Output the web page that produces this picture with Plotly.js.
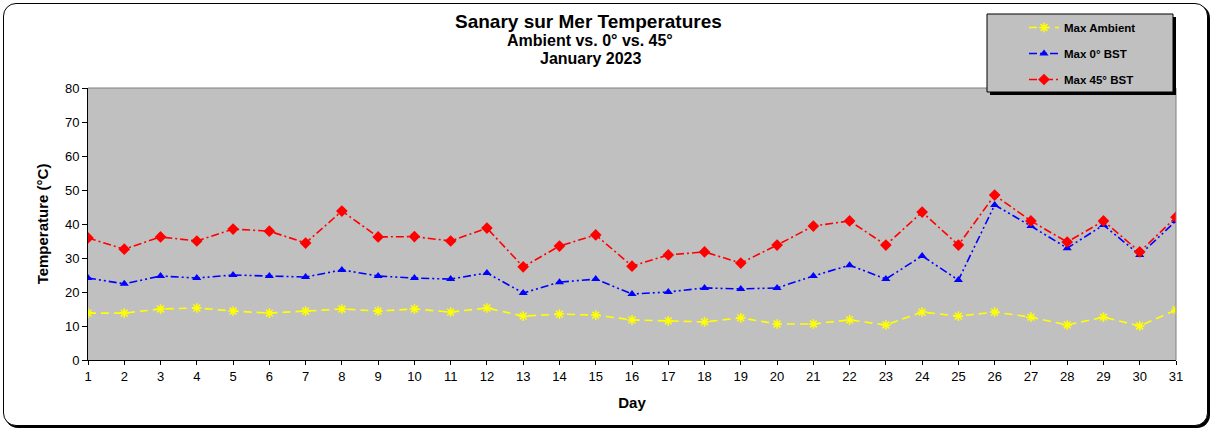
<!DOCTYPE html>
<html>
<head>
<meta charset="utf-8">
<script src="https://cdn.plot.ly/plotly-3.0.1.min.js"></script>
<style>
  body { margin: 0; background: #fff; }
  #frame { position: absolute; left: 3px; top: 3px; width: 1203px; height: 421px;
           border: 1.5px solid #000; border-radius: 13px; box-shadow: 2px 2px 0 #000; background: #fff; }
  #chart { position: absolute; left: 0; top: 0; width: 1212px; height: 430px; }
</style>
</head>
<body>
<div id="frame"></div>
<div id="chart"></div>
<script>
const days = [1,2,3,4,5,6,7,8,9,10,11,12,13,14,15,16,17,18,19,20,21,22,23,24,25,26,27,28,29,30,31];
const maxAmbient = [13.8,13.8,15.0,15.3,14.4,13.8,14.4,15.0,14.4,15.0,14.1,15.3,12.9,13.5,13.2,11.8,11.5,11.2,12.4,10.6,10.6,11.8,10.3,14.1,12.9,14.1,12.6,10.3,12.6,10.0,14.7];
const max0BST = [24.1,22.4,24.7,24.1,25.0,24.7,24.4,26.5,24.7,24.1,23.8,25.6,19.7,22.9,23.8,19.4,20.0,21.2,20.9,21.2,24.7,27.9,23.8,30.6,23.5,45.6,39.4,32.9,39.7,30.9,40.9];
const max45BST = [35.9,32.6,36.2,35.0,38.5,37.9,34.4,43.8,36.2,36.3,35.0,38.8,27.4,33.5,36.8,27.6,30.9,31.8,28.5,33.8,39.4,40.9,33.8,43.5,33.8,48.5,40.9,34.7,40.9,31.8,42.0];
const seriesNames = ["Max Ambient", "Max 0° BST", "Max 45° BST"];
const titleLines = ["Sanary sur Mer Temperatures", "Ambient vs. 0° vs. 45°", "January 2023"];

const FONT = "Liberation Sans, Arial, sans-serif";
const L = 88, R = 1176, T = 88, B = 360;
const px = x => (x - L) / (R - L);
const py = y => (B - y) / (B - T);

const traces = [
  { x: days, y: maxAmbient, name: seriesNames[0], mode: "lines+markers", legendgroup: "a",
    line: { color: "#FFFF00", width: 1.6, dash: "8px,5px" },
    marker: { symbol: "asterisk-open", size: 8, color: "#FFFF00", line: { color: "#FFFF00", width: 1.5 } } },
  { x: days, y: max0BST, name: seriesNames[1], mode: "lines+markers", legendgroup: "b",
    line: { color: "#0000FF", width: 1.6, dash: "8px,3px,2px,3px,2px,3px" },
    marker: { symbol: "triangle-up", size: 8, color: "#0000FF" } },
  { x: days, y: max45BST, name: seriesNames[2], mode: "lines+markers", legendgroup: "c",
    line: { color: "#FF0000", width: 1.6, dash: "8px,3px,2px,3px" },
    marker: { symbol: "diamond", size: 9, color: "#FF0000" } }
];

const layout = {
  width: 1212, height: 430,
  margin: { l: L, r: 1212 - R, t: T, b: 430 - B },
  paper_bgcolor: "rgba(0,0,0,0)",
  plot_bgcolor: "#C0C0C0",
  font: { family: FONT, size: 12, color: "#000" },
  showlegend: true,
  legend: {
    x: px(1024), y: py(13), xanchor: "left", yanchor: "top",
    bgcolor: "rgba(0,0,0,0)", borderwidth: 0,
    traceorder: "grouped", tracegroupgap: 7,
    font: { family: FONT, size: 11.5, color: "#000", weight: "bold" },
    itemwidth: 30
  },
  xaxis: {
    range: [1, 31], tickmode: "array", tickvals: days, ticktext: days.map(String),
    showgrid: false, zeroline: false, showline: true, linecolor: "#000", linewidth: 1,
    ticks: "outside", ticklen: 4, tickcolor: "#000",
    tickfont: { family: FONT, size: 13, color: "#000" },
    title: { text: "Day", font: { family: FONT, size: 15, color: "#000", weight: "bold" }, standoff: 14 }
  },
  yaxis: {
    range: [0, 80], dtick: 10, showgrid: false, zeroline: false,
    showline: true, linecolor: "#000", linewidth: 1,
    ticks: "outside", ticklen: 5, tickcolor: "#000",
    tickfont: { family: FONT, size: 13, color: "#000" },
    title: { text: "Temperature (°C)", font: { family: FONT, size: 15, color: "#000", weight: "bold" }, standoff: 12 }
  },
  shapes: [
    { type: "line", xref: "paper", yref: "paper", x0: 0, x1: 1, y0: 1, y1: 1, line: { color: "#808080", width: 1 }, layer: "above" },
    { type: "line", xref: "paper", yref: "paper", x0: 1, x1: 1, y0: 0, y1: 1, line: { color: "#808080", width: 1 }, layer: "above" },
    { type: "rect", xref: "paper", yref: "paper", x0: px(990), x1: px(1176), y0: py(17), y1: py(95), fillcolor: "#000", line: { width: 0 }, layer: "above" },
    { type: "rect", xref: "paper", yref: "paper", x0: px(987), x1: px(1173), y0: py(14), y1: py(92), fillcolor: "#C0C0C0", line: { color: "#000", width: 1 }, layer: "above" }
  ],
  annotations: [
    { text: "<b>" + titleLines[0] + "</b>", xref: "paper", yref: "paper", x: px(588), y: py(21), xanchor: "center", yanchor: "middle", showarrow: false, font: { family: FONT, size: 19, color: "#000" } },
    { text: "<b>" + titleLines[1] + "</b>", xref: "paper", yref: "paper", x: px(590), y: py(41), xanchor: "center", yanchor: "middle", showarrow: false, font: { family: FONT, size: 16, color: "#000" } },
    { text: "<b>" + titleLines[2] + "</b>", xref: "paper", yref: "paper", x: px(591), y: py(59), xanchor: "center", yanchor: "middle", showarrow: false, font: { family: FONT, size: 16, color: "#000" } }
  ]
};

Plotly.newPlot("chart", traces, layout, { displayModeBar: false, staticPlot: true });
</script>
</body>
</html>
